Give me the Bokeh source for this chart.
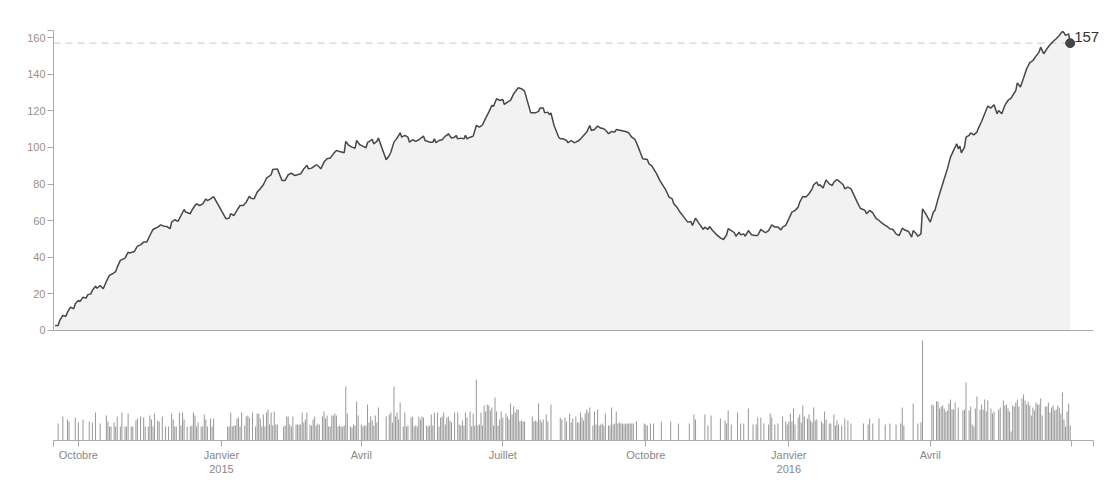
import pandas as pd
from bokeh.plotting import figure
from bokeh.models import Range1d, FixedTicker, Label
from bokeh.embed import file_html
from bokeh.resources import INLINE

# ---------------- data (day offsets from 2014-10-01) ----------------
BASE_DATE = "2014-10-01"

line_day = [
    -15, -13, -12, -10, -8, -7, -5, -3, -2, 0, 1, 3, 5, 6, 8, 9, 11, 12, 14, 16,
    18, 20, 22, 24, 25, 27, 30, 32, 33, 36, 38, 40, 42, 44, 46, 48, 51, 53, 55, 57,
    59, 60, 62, 64, 66, 68, 69, 72, 73, 75, 76, 78, 80, 82, 83, 85, 87, 95, 97, 98,
    100, 102, 104, 106, 108, 110, 111, 113, 115, 117, 119, 121, 124, 125, 128, 131, 133, 135, 137, 139,
    141, 143, 145, 147, 148, 150, 153, 154, 156, 158, 160, 162, 164, 166, 168, 171, 172, 174, 176, 178,
    179, 181, 183, 185, 186, 188, 189, 190, 192, 193, 198, 200, 201, 203, 205, 207, 208, 210, 212, 213,
    215, 217, 219, 222, 223, 226, 228, 229, 230, 232, 234, 236, 237, 238, 240, 242, 243, 244, 246, 248,
    249, 250, 252, 254, 256, 258, 260, 262, 264, 266, 267, 269, 271, 273, 274, 276, 278, 280, 283, 285,
    287, 291, 294, 296, 297, 299, 300, 302, 303, 304, 306, 309, 310, 312, 314, 315, 317, 319, 320, 322,
    324, 327, 329, 330, 332, 334, 336, 338, 340, 341, 343, 345, 346, 349, 352, 354, 356, 358, 359, 361,
    363, 366, 367, 369, 372, 374, 375, 378, 380, 382, 383, 385, 387, 390, 392, 394, 395, 397, 399, 402,
    403, 405, 406, 408, 410, 413, 415, 417, 418, 420, 422, 423, 425, 426, 428, 429, 431, 433, 435, 437,
    439, 440, 442, 444, 446, 448, 450, 452, 453, 455, 457, 459, 461, 463, 464, 466, 468, 470, 472, 473,
    475, 476, 477, 479, 481, 483, 485, 486, 488, 490, 492, 493, 495, 497, 499, 501, 503, 506, 507, 509,
    511, 513, 515, 517, 519, 520, 522, 524, 526, 528, 530, 531, 534, 536, 537, 539, 540, 542, 543, 545,
    548, 550, 551, 553, 555, 557, 559, 561, 563, 565, 566, 567, 568, 570, 571, 573, 574, 576, 578, 579,
    581, 583, 585, 587, 589, 591, 592, 594, 596, 598, 600, 601, 603, 604, 606, 608, 610, 612, 614, 616,
    618, 619, 621, 623, 625, 627, 629, 631, 633, 634, 635, 637, 638,
]
line_val = [
    2.7, 2.7, 5.5, 8.2, 7.8, 10.0, 12.8, 11.8, 14.6, 16.4, 15.8, 18.2, 17.7, 19.5, 20.0, 21.9, 24.2, 23.1, 24.6, 22.8,
    26.8, 30.1, 31.0, 32.2, 34.6, 38.3, 39.5, 42.8, 42.3, 43.2, 46.1, 46.8, 48.3, 48.3, 51.9, 55.2, 56.5, 57.7, 57.0, 56.8,
    55.6, 59.2, 60.5, 59.6, 62.8, 66.1, 64.7, 63.8, 65.6, 68.3, 69.2, 68.3, 69.2, 71.9, 71.0, 71.9, 73.2, 61.0, 61.4, 63.8,
    62.8, 65.6, 68.3, 68.3, 70.1, 73.4, 72.3, 71.9, 75.6, 77.4, 79.6, 83.2, 85.1, 88.0, 88.3, 82.0, 82.0, 85.1, 86.0, 84.7,
    85.1, 85.6, 88.3, 90.2, 88.3, 88.7, 90.5, 90.2, 88.3, 92.0, 93.8, 94.2, 96.5, 98.4, 97.8, 97.1, 103.3, 101.1, 100.2, 99.6,
    103.8, 101.5, 100.7, 99.8, 102.6, 103.8, 104.4, 102.0, 103.3, 105.1, 93.3, 95.6, 97.4, 102.9, 105.1, 108.0, 105.6, 106.6, 105.6, 102.9,
    104.2, 103.3, 104.2, 106.2, 103.8, 102.9, 102.9, 104.7, 102.6, 103.8, 104.2, 106.2, 106.6, 107.5, 105.1, 105.6, 106.6, 104.7, 105.1, 104.7,
    106.6, 104.7, 105.6, 106.2, 112.0, 111.1, 112.4, 116.0, 119.3, 123.0, 122.4, 126.6, 125.7, 126.2, 123.5, 124.8, 125.7, 129.3, 132.6, 132.1,
    130.8, 118.9, 118.9, 119.7, 121.5, 121.5, 118.9, 119.3, 117.9, 118.8, 112.0, 105.6, 104.7, 104.7, 103.8, 102.6, 103.8, 102.6, 102.9, 103.8,
    105.6, 108.4, 112.0, 109.3, 109.8, 111.7, 110.6, 110.2, 108.7, 107.5, 108.7, 108.4, 109.8, 109.3, 108.7, 108.0, 105.6, 104.4, 102.6, 98.4,
    93.8, 93.4, 91.1, 89.8, 85.6, 82.0, 80.7, 76.5, 72.9, 71.9, 69.2, 67.4, 64.7, 61.4, 59.2, 59.6, 57.4, 61.4, 58.8, 55.2,
    56.5, 55.2, 56.8, 54.6, 52.8, 50.6, 49.7, 52.3, 55.6, 54.6, 53.4, 51.5, 53.7, 52.3, 52.8, 51.5, 54.6, 52.3, 51.9, 51.9,
    55.2, 54.6, 53.4, 54.6, 57.7, 56.5, 56.5, 55.0, 56.5, 57.4, 61.0, 64.7, 65.6, 67.4, 70.1, 73.2, 72.9, 74.7, 77.4, 79.6,
    81.1, 79.2, 79.6, 77.8, 82.3, 80.1, 79.2, 81.1, 82.5, 81.1, 79.6, 77.4, 78.3, 77.4, 73.8, 70.1, 66.8, 65.6, 63.8, 65.6,
    64.3, 61.4, 60.1, 58.7, 57.4, 57.0, 55.6, 55.2, 52.8, 51.9, 55.9, 55.2, 54.1, 51.0, 54.6, 52.8, 51.5, 52.8, 66.5, 63.8,
    59.2, 64.7, 65.6, 71.9, 77.4, 82.9, 88.3, 94.7, 98.4, 102.0, 99.3, 100.7, 97.1, 100.2, 105.6, 106.6, 108.0, 106.9, 108.4, 110.6,
    114.2, 118.4, 122.6, 121.5, 123.3, 118.4, 120.2, 118.4, 123.0, 125.7, 127.0, 128.4, 131.1, 135.3, 133.0, 137.9, 143.0, 146.3, 147.5, 149.9,
    152.1, 154.8, 151.2, 153.9, 156.1, 157.9, 159.4, 161.2, 163.4, 162.7, 161.2, 162.1, 157.0,
]

bar_day = [
    -13, -10, -7, -6, -2, 0, 3, 7, 9, 11,
    14, 18, 19, 20, 21, 23, 24, 25, 27, 28,
    30, 31, 32, 34, 35, 37, 38, 40, 42, 43,
    45, 46, 47, 48, 49, 51, 52, 54, 56, 58,
    60, 61, 62, 63, 65, 66, 67, 68, 70, 72,
    73, 74, 75, 76, 77, 79, 80, 81, 82, 83,
    85, 86, 87, 96, 97, 98, 99, 100, 101, 102,
    103, 104, 105, 107, 108, 109, 110, 112, 114,
    115, 116, 117, 118, 119, 120, 121, 122, 123, 124,
    125, 126, 127, 128, 132, 133, 134, 135, 136, 137,
    138, 140, 141, 142, 143, 144, 145, 146, 147, 149,
    150, 151, 152, 153, 154, 155, 157, 158, 159, 160,
    161, 162, 163, 164, 165, 166, 167, 168, 169, 170,
    171, 172, 173, 175, 176, 177, 178, 179, 180, 182,
    183, 184, 185, 186, 187, 188, 189, 190, 191, 192,
    193, 198, 200, 201, 202, 203, 204, 205, 206, 207,
    209, 210, 211, 212, 214, 215, 216, 217, 218, 219,
    220, 221, 222, 224, 225, 226, 227, 228, 229, 231,
    232, 233, 234, 235, 236, 237, 238, 239, 240, 242,
    244, 245, 246,
    247, 248, 249, 250, 252, 253, 254, 255, 256, 257,
    258, 259, 260, 261, 262, 263, 264, 265, 266, 267,
    268, 269, 270, 271, 272, 273, 275, 276, 277, 278,
    279, 280, 281, 282, 283, 284, 285, 286, 287, 292,
    293, 294, 295, 296, 297, 298, 299, 301, 302, 304,
    310, 311, 313, 314, 316, 317, 318, 320, 321, 322,
    323, 324, 325, 326, 327, 328, 329, 331, 332, 333,
    334, 335, 336, 337, 338, 339, 341, 342, 343, 344,
    345, 346, 347, 348, 349, 350, 351, 352, 353, 354,
    355, 356, 357, 359, 364, 365, 366, 368, 370, 375,
    381, 386, 393, 396, 397, 403, 405, 407, 413, 416,
    417, 418, 420, 424, 426, 428, 431, 434, 436, 437,
    439, 441, 444, 445, 446, 448, 450, 453, 455, 456,
    457, 458, 459, 460, 461, 463, 464, 465, 466, 467,
    469, 470, 471, 472, 473, 474, 475, 478, 479, 480,
    481, 483, 484, 486, 487, 488, 489, 491, 493, 495,
    497, 505, 508, 509,
    511, 515, 519, 522, 526, 529, 530, 531, 537, 540,
    542, 543, 549, 550, 552, 553, 554, 555, 556, 557,
    558, 559, 560, 561, 562, 563, 564, 566, 569, 570,
    571, 573, 574, 575, 576, 577, 578, 580, 581, 582,
    583, 584, 585, 587, 588, 589, 592, 593, 595, 596,
    597, 598, 599, 600, 601, 602, 603, 604, 605, 607,
    608, 609, 610, 611, 612, 613, 614, 615, 616, 617,
    618, 619, 620, 622, 623, 624, 625, 626, 627, 628,
    629, 630, 631, 632, 633, 634, 635, 636, 637, 638,
]
bar_h = [
    17, 24, 21, 19, 23, 18, 21, 19, 18, 28,
    17, 25, 19, 14, 14, 18, 14, 24, 14, 28,
    14, 14, 27, 14, 14, 20, 22, 24, 23, 14,
    14, 25, 21, 14, 27, 20, 19, 24, 14, 14,
    27, 21, 14, 14, 28, 15, 28, 21, 14, 14,
    15, 28, 25, 14, 18, 14, 14, 26, 21, 14,
    22, 14, 22, 14, 14, 28, 14, 15, 15, 22,
    23, 14, 28, 15, 24, 25, 23, 28, 14,
    27, 27, 22, 14, 26, 14, 28, 31, 16, 28,
    15, 29, 16, 16, 14, 15, 24, 24, 16, 14,
    24, 16, 16, 16, 16, 28, 18, 21, 28, 16,
    15, 21, 24, 15, 17, 16, 24, 29, 22, 25,
    14, 14, 25, 25, 27, 25, 14, 15, 14, 14,
    15, 54, 27, 14, 13, 16, 15, 39, 25, 16,
    14, 15, 15, 36, 18, 24, 20, 15, 25, 18,
    33, 24, 26, 28, 18, 54, 24, 28, 21, 38,
    14, 28, 14, 15, 23, 24, 14, 15, 14, 24,
    21, 24, 23, 15, 14, 15, 26, 15, 28, 28,
    14, 23, 24, 28, 16, 23, 24, 20, 18, 28,
    28, 16, 15,
    20, 15, 28, 23, 29, 14, 27, 15, 61, 15,
    16, 28, 15, 35, 29, 36, 35, 30, 33, 15,
    43, 29, 15, 21, 29, 23, 27, 24, 21, 37,
    26, 34, 28, 31, 31, 19, 20, 19, 19, 24,
    19, 20, 19, 37, 21, 18, 21, 26, 19, 36,
    23, 21, 23, 19, 27, 18, 22, 24, 18, 18,
    28, 23, 20, 27, 31, 28, 33, 15, 29, 16,
    31, 15, 16, 17, 15, 27, 15, 15, 33, 16,
    17, 29, 17, 18, 17, 17, 16, 17, 17, 17,
    17, 17, 17, 19, 17, 16, 15, 17, 17, 19,
    19, 17, 17, 26, 21, 26, 15, 25, 22, 20,
    17, 30, 16, 28, 17, 17, 32, 16, 16, 23,
    23, 17, 16, 27, 23, 16, 17, 24, 19, 16,
    19, 27, 19, 32, 16, 23, 26, 18, 35, 24,
    22, 26, 20, 18, 33, 20, 21, 19, 17, 29,
    21, 17, 17, 26, 15, 20, 16, 15, 22, 20,
    17, 17, 16, 22,
    17, 22, 16, 17, 16, 17, 33, 15, 37, 17,
    18, 100, 36, 35, 39, 39, 32, 34, 35, 32,
    29, 30, 37, 41, 31, 31, 38, 33, 30, 31,
    58, 30, 34, 16, 14, 32, 44, 31, 36, 31,
    41, 29, 40, 32, 27, 29, 31, 33, 40, 35,
    36, 32, 29, 9, 35, 34, 38, 41, 34, 42,
    46, 40, 36, 39, 35, 25, 33, 30, 38, 36,
    36, 42, 25, 34, 34, 38, 28, 33, 35, 30,
    31, 35, 33, 27, 48, 21, 14, 29, 37, 15,
]

y_ticks = [0, 20, 40, 60, 80, 100, 120, 140, 160]
month_ticks = ["2014-10-01", "2015-01-01", "2015-04-01", "2015-07-01",
               "2015-10-01", "2016-01-01", "2016-04-01", "2016-07-01"]
month_labels = ["Octobre", "Janvier\n2015", "Avril", "Juillet",
                "Octobre", "Janvier\n2016", "Avril", ""]
domain_start, domain_end = "2014-09-15", "2016-07-15"

# ---------------- helpers ----------------
base = pd.Timestamp(BASE_DATE)


def to_dt(days):
    return [base + pd.Timedelta(days=d) for d in days]


def ms(s):
    return pd.Timestamp(s).value / 1e6


n_line = min(len(line_day), len(line_val))
line_x = to_dt(line_day[:n_line])
line_y = line_val[:n_line]
n_bar = min(len(bar_day), len(bar_h))
bar_x = to_dt(bar_day[:n_bar])
bar_y = bar_h[:n_bar]

x0, x1 = ms(domain_start), ms(domain_end)
AXIS_W = 1040          # px covered by the time domain
FRAME_W = 1053         # extra room on the right for the value label
x_view_end = x0 + (x1 - x0) * FRAME_W / AXIS_W
Y_TOP = 163.9
FONT = "Liberation Sans"
AXIS_COLOR = "#aaaaaa"

p = figure(frame_width=FRAME_W, frame_height=410, x_axis_type="datetime",
           x_range=Range1d(x0, x_view_end), y_range=Range1d(-60.1, Y_TOP),
           output_backend="svg", toolbar_location=None,
           min_border_left=53, min_border_right=0, min_border_top=30,
           min_border_bottom=30)
p.extra_y_ranges = {"vol": Range1d(0, 410)}
p.xgrid.visible = False
p.ygrid.visible = False
p.outline_line_color = None
p.background_fill_color = "white"

# area + baseline of the upper panel
p.varea(x=line_x, y1=0, y2=line_y, fill_color="#f2f2f2")
p.line([pd.Timestamp(domain_start), pd.Timestamp(domain_end)], [0, 0],
       line_color=AXIS_COLOR, line_width=1)

last_x, last_y = line_x[-1], line_y[-1]
p.line([pd.Timestamp(domain_start), last_x], [last_y, last_y],
       line_color="#c8c8c8", line_dash="7 5", line_width=1)
p.line(line_x, line_y, line_color="#474747", line_width=1.5)
p.scatter([last_x], [last_y], size=9, fill_color="#444444", line_color="#444444")
p.add_layout(Label(x=last_x, y=last_y, x_offset=4, y_offset=6, text=f"{round(last_y)}",
                   text_font=FONT, text_font_size="15px", text_color="#333333",
                   text_baseline="alphabetic"))

# volume bars
p.vbar(x=bar_x, top=bar_y, bottom=0, width=0.66 * 86400000,
       fill_color="#9a9a9a", line_color=None, y_range_name="vol")

# y axis
ya = p.yaxis[0]
ya.ticker = FixedTicker(ticks=y_ticks + [Y_TOP])
ya.bounds = (0, Y_TOP)
ya.major_label_overrides = {Y_TOP: ""}
ya.major_tick_out = 6
ya.major_tick_in = 0
ya.minor_tick_line_color = None
ya.axis_line_color = AXIS_COLOR
ya.major_tick_line_color = AXIS_COLOR
ya.major_label_text_font = FONT
ya.major_label_text_font_size = "11px"
ya.major_label_text_color = "#9d8f81"
ya.major_label_standoff = 2

# x axis
xa = p.xaxis[0]
tick_ms = [ms(t) for t in month_ticks]
xa.ticker = FixedTicker(ticks=[x0] + tick_ms + [x1])
xa.bounds = (x0, x1)
ov = {x0: "", x1: ""}
for t, lab in zip(tick_ms, month_labels):
    ov[t] = lab
xa.major_label_overrides = ov
xa.major_tick_out = 6
xa.major_tick_in = 0
xa.minor_tick_line_color = None
xa.axis_line_color = AXIS_COLOR
xa.major_tick_line_color = AXIS_COLOR
xa.major_label_text_font = FONT
xa.major_label_text_font_size = "11px"
xa.major_label_text_color = "#888888"
xa.major_label_standoff = 2

open("out.html", "w").write(file_html(p, INLINE))
